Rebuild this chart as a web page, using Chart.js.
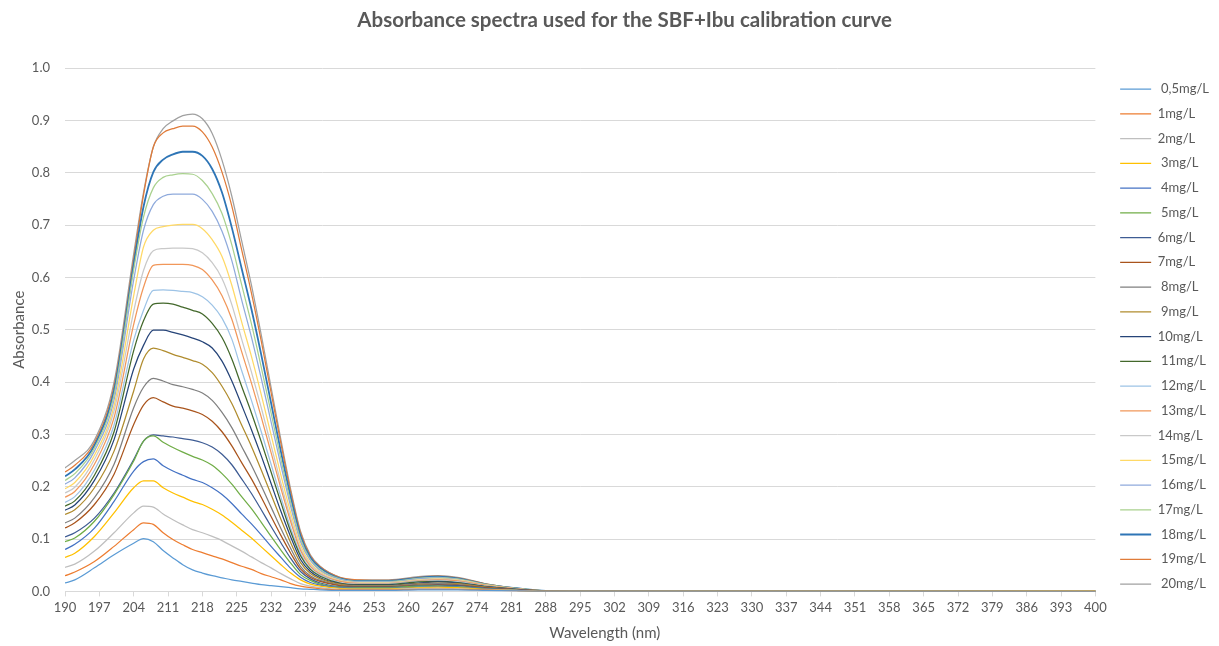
<!DOCTYPE html>
<html>
<head>
<meta charset="utf-8">
<script src="https://cdn.jsdelivr.net/npm/chart.js@4/dist/chart.umd.min.js"></script>
<style>
  html, body { margin: 0; padding: 0; background: #fff; }
  #wrap { width: 1219px; height: 646px; }
</style>
</head>
<body>
<div id="wrap"><canvas id="spectraChart" width="1219" height="646"></canvas></div>
<script>
// Absorbance spectra (SBF + Ibu calibration)

const wavelengths = [190, 192, 196, 200, 204, 206, 208, 210, 212, 214, 216, 218, 220, 222, 224, 226, 228, 230,
  232, 234, 236, 238, 240, 242, 246, 250, 256, 262, 266, 270, 276, 282, 288, 300, 400];

const seriesLabels = [" 0,5mg/L", "1mg/L", "2mg/L", " 3mg/L", " 4mg/L", " 5mg/L", "6mg/L", "7mg/L", " 8mg/L",
  " 9mg/L", "10mg/L", " 11mg/L", " 12mg/L", " 13mg/L", "14mg/L", " 15mg/L", " 16mg/L", "17mg/L", " 18mg/L",
  " 19mg/L", " 20mg/L"];

const seriesColors = ["#5B9BD5", "#ED7D31", "#BFBFBF", "#FFC000", "#4472C4", "#70AD47", "#3E5C94", "#A9541C",
  "#7F7F7F", "#B08C2E", "#264478", "#43682B", "#9DC3E6", "#F1975A", "#C9C9C9", "#FFD966", "#8FAADC",
  "#A9D18E", "#2E75B6", "#E07B39", "#A0A0A0"];

const abs0_5 = [.016, .022, .045, .070, .092, .101, .095, .078, .064, .051, .041, .035, .030, .026, .022, .019, .016, .013, .011, .009, .007, .005, .004, .003, .002, .002, .002, .003, .003, .003, .002, .001, .000, .000, .000];
const abs1 = [.030, .037, .057, .086, .118, .131, .128, .112, .099, .089, .080, .074, .068, .062, .055, .048, .042, .034, .028, .022, .015, .010, .007, .005, .003, .003, .003, .004, .004, .004, .003, .001, .000, .000, .000];
const abs2 = [.046, .052, .077, .112, .150, .163, .161, .148, .137, .127, .118, .112, .105, .097, .087, .077, .066, .055, .045, .034, .024, .015, .010, .007, .004, .004, .004, .006, .006, .005, .003, .002, .000, .000, .000];
const abs3 = [.065, .073, .105, .150, .198, .211, .211, .198, .188, .180, .172, .166, .157, .146, .132, .117, .102, .085, .068, .051, .035, .022, .014, .010, .006, .005, .005, .007, .008, .007, .004, .002, .000, .000, .001];
const abs4 = [.080, .090, .121, .172, .230, .248, .253, .240, .230, .222, .214, .208, .198, .185, .168, .148, .129, .108, .086, .065, .044, .027, .017, .012, .007, .006, .006, .008, .009, .008, .005, .002, .000, .000, .000];
const abs5 = [.095, .102, .134, .185, .249, .287, .297, .285, .275, .266, .258, .251, .241, .225, .205, .181, .158, .132, .105, .079, .054, .032, .021, .014, .008, .007, .007, .010, .010, .009, .005, .002, .000, .000, .000];
const abs6 = [.104, .112, .140, .188, .252, .287, .299, .297, .295, .292, .289, .284, .276, .262, .242, .215, .187, .156, .124, .093, .063, .038, .024, .016, .009, .008, .008, .011, .012, .011, .006, .003, .000, .000, .001];
const abs7 = [.121, .131, .166, .224, .319, .356, .370, .362, .354, .350, .345, .338, .325, .305, .278, .246, .215, .180, .143, .107, .073, .043, .027, .019, .011, .009, .009, .012, .013, .012, .007, .003, .001, .000, .000];
const abs8 = [.131, .140, .179, .243, .351, .390, .407, .402, .395, .391, .386, .379, .365, .342, .313, .277, .241, .202, .161, .120, .082, .048, .030, .021, .012, .010, .010, .014, .015, .013, .007, .003, .001, .000, .000];
const abs9 = [.147, .156, .198, .268, .383, .444, .465, .460, .453, .447, .441, .434, .418, .392, .359, .318, .277, .232, .185, .138, .093, .055, .034, .024, .014, .011, .011, .015, .016, .015, .008, .003, .001, .000, .001];
const abs10 = [.155, .165, .212, .290, .425, .470, .499, .499, .495, .490, .484, .477, .465, .440, .402, .356, .309, .259, .206, .153, .104, .061, .038, .026, .015, .012, .012, .016, .018, .016, .009, .004, .001, .000, .000];
const abs11 = [.163, .173, .222, .305, .460, .517, .549, .551, .549, .543, .537, .530, .512, .485, .444, .392, .341, .286, .228, .170, .114, .068, .042, .029, .016, .013, .013, .018, .019, .017, .009, .004, .001, .000, .000];
const abs12 = [.170, .181, .232, .318, .480, .537, .575, .576, .575, .573, .571, .563, .547, .522, .482, .422, .365, .305, .243, .180, .121, .072, .044, .031, .017, .014, .014, .019, .020, .018, .010, .004, .001, .000, .001];
const abs13 = [.180, .191, .243, .332, .510, .581, .623, .625, .625, .625, .623, .615, .595, .565, .520, .458, .398, .333, .265, .197, .133, .078, .048, .033, .019, .015, .015, .020, .022, .020, .011, .005, .001, .000, .000];
const abs14 = [.188, .199, .252, .345, .535, .613, .651, .655, .656, .656, .655, .647, .628, .598, .548, .482, .419, .351, .279, .207, .140, .082, .051, .035, .020, .016, .016, .021, .023, .021, .011, .005, .001, .000, .000];
const abs15 = [.196, .208, .260, .355, .565, .658, .690, .697, .700, .701, .701, .693, .672, .640, .585, .515, .449, .376, .299, .222, .150, .088, .054, .037, .021, .017, .017, .022, .024, .022, .012, .005, .001, .000, .001];
const abs16 = [.205, .217, .268, .366, .595, .690, .739, .755, .759, .759, .759, .749, .726, .688, .632, .557, .486, .407, .324, .241, .162, .095, .059, .040, .023, .018, .018, .024, .026, .023, .012, .005, .001, .000, .000];
const abs17 = [.212, .225, .274, .376, .615, .715, .771, .791, .796, .798, .797, .785, .760, .722, .662, .586, .511, .428, .341, .253, .170, .100, .061, .042, .024, .019, .019, .025, .027, .024, .013, .006, .001, .000, .000];
const abs18 = [.220, .233, .279, .384, .625, .735, .801, .825, .835, .840, .840, .832, .807, .762, .695, .617, .539, .452, .360, .267, .180, .106, .065, .045, .025, .020, .020, .026, .028, .025, .013, .006, .001, .000, .001];
const abs19 = [.228, .241, .284, .392, .635, .757, .849, .876, .884, .889, .889, .878, .849, .801, .736, .653, .570, .478, .380, .283, .190, .112, .068, .047, .027, .022, .021, .027, .029, .026, .014, .006, .001, .000, .000];
const abs20 = [.236, .250, .289, .400, .645, .762, .849, .884, .899, .909, .912, .903, .875, .824, .755, .670, .585, .490, .390, .290, .195, .115, .070, .048, .027, .022, .022, .028, .030, .027, .014, .006, .001, .000, .001];

const allSeries = [abs0_5, abs1, abs2, abs3, abs4, abs5, abs6, abs7, abs8, abs9, abs10, abs11, abs12, abs13,
  abs14, abs15, abs16, abs17, abs18, abs19, abs20];

const TEXT_COLOR = "#595959";
const GRID_COLOR = "#D9D9D9";
const FONT = "Lato, 'Open Sans', sans-serif";

const datasets = allSeries.map((values, i) => ({
  label: seriesLabels[i],
  data: values.map((v, j) => ({ x: wavelengths[j], y: v })),
  borderColor: seriesColors[i],
  backgroundColor: seriesColors[i],
  borderWidth: i === 18 ? 1.8 : 1.25,
  pointRadius: 0,
  cubicInterpolationMode: "monotone",
  fill: false,
}));

new Chart(document.getElementById("spectraChart"), {
  type: "line",
  data: { datasets: datasets },
  options: {
    responsive: false,
    animation: false,
    devicePixelRatio: 1,
    layout: { padding: { left: 6, right: 0, top: 0, bottom: 2 } },
    plugins: {
      title: {
        display: true,
        // Excel centres the title a little right of the canvas middle
        text: "\u00A0\u00A0\u00A0\u00A0\u00A0Absorbance spectra used for the SBF+Ibu calibration curve",
        color: TEXT_COLOR,
        font: { family: FONT, size: 20.5, weight: "bold" },
        padding: { top: 8, bottom: 35.4 },
      },
      // x axis title, centred on the whole chart like in Excel
      subtitle: {
        display: true,
        position: "bottom",
        text: "Wavelength (nm)\u00A0\u00A0\u00A0\u00A0",
        color: TEXT_COLOR,
        font: { family: FONT, size: 15 },
        padding: { top: 4, bottom: 2 },
      },
      legend: {
        display: true,
        position: "right",
        title: { display: true, text: " ", font: { family: FONT, size: 13 }, padding: { top: 7, bottom: 6.4 } },
        labels: {
          usePointStyle: true,
          pointStyle: "line",
          pointStyleWidth: 31,
          color: TEXT_COLOR,
          font: { family: FONT, size: 13 },
          padding: 11.75,
        },
      },
      tooltip: { enabled: false },
    },
    scales: {
      x: {
        type: "linear",
        min: 190,
        max: 400,
        ticks: {
          stepSize: 7,
          autoSkip: false,
          maxRotation: 0,
          color: TEXT_COLOR,
          font: { family: FONT, size: 13 },
          padding: 4,
        },
        grid: { drawOnChartArea: false, tickLength: 5, color: GRID_COLOR },
        border: { color: GRID_COLOR },
      },
      y: {
        min: 0,
        max: 1,
        ticks: {
          stepSize: 0.1,
          color: TEXT_COLOR,
          font: { family: FONT, size: 13 },
          padding: 15,
          callback: (v) => v.toFixed(1),
        },
        grid: { color: GRID_COLOR, drawTicks: false },
        border: { display: false },
        title: {
          display: true,
          text: "Absorbance",
          color: TEXT_COLOR,
          font: { family: FONT, size: 15 },
          padding: { top: 4, bottom: 4 },
        },
        afterFit: (scale) => { scale.width = 59; },
      },
      // empty spacer between plot and legend
      gap: {
        type: "linear",
        position: "right",
        display: true,
        ticks: { display: false },
        grid: { drawOnChartArea: false, drawTicks: false },
        border: { display: false },
        afterFit: (scale) => { scale.width = 13; },
      },
    },
  },
});
</script>
</body>
</html>
